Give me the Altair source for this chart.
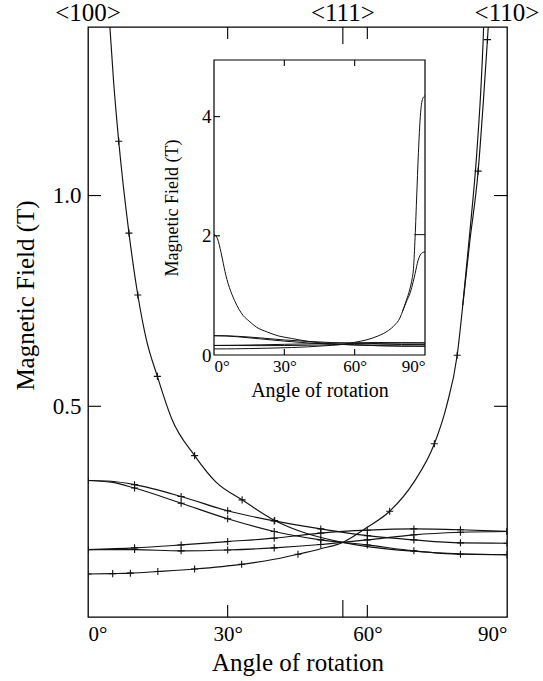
import altair as alt
import pandas as pd

FONT = "Liberation Serif"

# ---------------- data ----------------
# curve A: diverges towards <100>
a_ang = [0, 1.5, 3.0, 4.0, 4.7, 5.5, 6.6, 8.8, 10.7, 12.5, 14.9, 18.0, 22.9, 27.5, 33.1, 40.1, 47.0, 54.7, 60, 70, 80, 90]
a_val = [2.03, 1.95, 1.72, 1.53, 1.40, 1.27, 1.129, 0.911, 0.764, 0.66, 0.571, 0.47, 0.383, 0.32, 0.278, 0.229, 0.198, 0.177, 0.167, 0.156, 0.150, 0.148]
# curves B and C: start together at 0.324 T
bc_ang = [0, 5, 10, 20, 30, 40, 50, 60, 70, 80, 90]
b_val = [0.324, 0.322, 0.314, 0.286, 0.252, 0.228, 0.209, 0.193, 0.183, 0.176, 0.175]
c_val = [0.324, 0.320, 0.306, 0.270, 0.233, 0.203, 0.183, 0.171, 0.157, 0.149, 0.148]
# curves D and E: start together at 0.160 T
de_ang = [0, 10, 20, 30, 40, 50, 60, 70, 80, 90]
d_val = [0.160, 0.164, 0.171, 0.179, 0.187, 0.199, 0.206, 0.209, 0.207, 0.203]
e_val = [0.160, 0.160, 0.157, 0.159, 0.164, 0.172, 0.183, 0.195, 0.201, 0.203]
# curve F: rises towards <110>
f_ang = [0, 5.3, 9.1, 15, 22.9, 33, 40, 45.1, 50, 54.7, 60, 64.8, 70, 74.4, 77, 79.3, 80.5, 82.0, 83.5, 84.6, 85.0, 85.7, 86.4, 87.2, 88.0, 89.0, 90]
f_val = [0.102, 0.103, 0.104, 0.108, 0.114, 0.125, 0.137, 0.149, 0.162, 0.177, 0.213, 0.251, 0.32, 0.411, 0.50, 0.621, 0.74, 0.911, 1.10, 1.30, 1.41, 1.9, 2.6, 3.4, 4.0, 4.3, 4.35]
# curve G: second branch near <110>
g_ang = [80.5, 82.0, 83.8, 84.9, 85.8, 87.0, 88.0, 89.0, 90]
g_val = [0.74, 0.89, 1.058, 1.22, 1.37, 1.58, 1.68, 1.72, 1.73]
# short level in the inset
h_ang = [85.5, 90]
h_val = [2.02, 2.02]

# angles where data crosses are drawn
a_marks = [6.6, 8.8, 10.7, 14.9, 22.9, 33.1, 40.1]
bc_marks = [0, 10, 20, 30, 40, 50, 60, 70, 80, 90]
de_marks = [0, 10, 20, 30, 40, 50, 60, 70, 80, 90]
f_marks = [0, 5.3, 9.1, 15, 22.9, 33, 45.1, 64.8, 74.4, 79.3]
g_marks = [83.8, 85.8]

# axes / labels
main_x_labels = [0, 30, 60, 90]
main_x_ticks = [30, 60]
main_x_long = [54.74]
main_y_labels = [0.5, 1.0]
dir_angles = [0, 54.74, 90]
dir_names = ["<100>", "<111>", "<110>"]
inset_x_labels = [0, 30, 60, 90]
inset_x_ticks = [30, 60]
inset_y_labels = [0, 2, 4]
inset_y_ticks = [2, 4]

# ---------------- tables ----------------
series = {
    "A": (a_ang, a_val), "B": (bc_ang, b_val), "C": (bc_ang, c_val),
    "D": (de_ang, d_val), "E": (de_ang, e_val), "F": (f_ang, f_val), "G": (g_ang, g_val),
}
rows = [{"series": k, "angle": x, "field": y} for k, (xs, ys) in series.items() for x, y in zip(xs, ys)]
lines_df = pd.DataFrame(rows)
inset_df = pd.DataFrame(rows + [{"series": "H", "angle": x, "field": y} for x, y in zip(h_ang, h_val)])

marks = {"A": a_marks, "B": bc_marks, "C": bc_marks, "D": de_marks, "E": de_marks, "F": f_marks, "G": g_marks}
mrows = []
for k, angs in marks.items():
    xs, ys = series[k]
    for x in angs:
        mrows.append({"series": k, "angle": x, "field": ys[xs.index(x)]})
marks_df = pd.DataFrame(mrows)

W, H = 419, 590

# ---------------- main panel ----------------
xs_main = alt.Scale(domain=[0, 90], nice=False, zero=False)
ys_main = alt.Scale(domain=[0, 1.4], nice=False, zero=False)
x_axis_main = alt.Axis(values=main_x_labels, labelExpr="datum.value + '°'", ticks=False, tickSize=0,
                       domain=False, grid=False, labelFontSize=21, labelPadding=6,
                       title="Angle of rotation", titleFontSize=25, titleY=53, titleBaseline="alphabetic")
y_axis_main = alt.Axis(values=main_y_labels, format=".1f", ticks=False, tickSize=0, domain=False,
                       grid=False, labelFontSize=23, labelPadding=7,
                       title="Magnetic Field (T)", titleFontSize=25, titleX=-55, titleY=268,
                       titleBaseline="alphabetic", titleAlign="center")

X = lambda: alt.X("angle:Q", scale=xs_main, axis=x_axis_main)
Y = lambda: alt.Y("field:Q", scale=ys_main, axis=y_axis_main)

main_lines = alt.Chart(lines_df).mark_line(clip=True, color="#111", strokeWidth=1.15, interpolate="monotone").encode(
    x=X(), y=Y(), detail="series:N")
main_marks = alt.Chart(marks_df).mark_point(shape="M-1,0L1,0M0,-1L0,1", size=50, filled=False,
                                            color="#111", strokeWidth=1.1, opacity=1, clip=True).encode(
    x=X(), y=Y(), detail="series:N")

tick_df = pd.DataFrame({"angle": main_x_ticks})
long_df = pd.DataFrame({"angle": main_x_long})
ytick_df = pd.DataFrame({"field": main_y_labels})
dir_df = pd.DataFrame({"angle": dir_angles, "name": dir_names})

rule = dict(color="black", strokeWidth=1.1)
bt = alt.Chart(tick_df).mark_rule(**rule).encode(x=X(), y=alt.value(H), y2=alt.value(H - 12))
tt = alt.Chart(tick_df).mark_rule(**rule).encode(x=X(), y=alt.value(0), y2=alt.value(12))
bl = alt.Chart(long_df).mark_rule(**rule).encode(x=X(), y=alt.value(H), y2=alt.value(H - 17))
tl = alt.Chart(long_df).mark_rule(**rule).encode(x=X(), y=alt.value(0), y2=alt.value(17))
lt = alt.Chart(ytick_df).mark_rule(**rule).encode(y=Y(), x=alt.value(0), x2=alt.value(13))
rt = alt.Chart(ytick_df).mark_rule(**rule).encode(y=Y(), x=alt.value(W - 13), x2=alt.value(W))
dirs = alt.Chart(dir_df).mark_text(font=FONT, fontSize=25, color="black", baseline="middle").encode(
    x=X(), y=alt.value(-14), text="name:N")

main = alt.layer(main_lines, main_marks, bt, tt, bl, tl, lt, rt, dirs)

# ---------------- inset panel ----------------
IX0, IX1, IY0, IY1 = 126, 337, 328, 33
xs_in = alt.Scale(domain=[0, 90], range=[IX0, IX1], nice=False, zero=False)
ys_in = alt.Scale(domain=[0, 4.95], range=[IY0, IY1], nice=False, zero=False)
x_axis_in = alt.Axis(orient="bottom", offset=-(H - IY0), values=inset_x_labels, labelExpr="datum.value + '°'",
                     ticks=False, tickSize=0, domain=False, grid=False, labelFontSize=17, labelPadding=3,
                     title="Angle of rotation", titleFontSize=20, titleY=41, titleBaseline="alphabetic")
y_axis_in = alt.Axis(orient="left", offset=-IX0, values=inset_y_labels, format="d", ticks=False, tickSize=0,
                     domain=False, grid=False, labelFontSize=19, labelPadding=3,
                     title="Magnetic Field (T)", titleFontSize=18, titleX=-37, titleBaseline="alphabetic",
                     titleAlign="center")
XI = lambda: alt.X("angle:Q", scale=xs_in, axis=x_axis_in)
YI = lambda: alt.Y("field:Q", scale=ys_in, axis=y_axis_in)

frame = alt.Chart(pd.DataFrame({"k": [0]})).mark_rect(fill="white", stroke="black", strokeWidth=1.2).encode(
    x=alt.X(datum=0, scale=xs_in, axis=x_axis_in), x2=alt.X2(datum=90),
    y=alt.Y(datum=0, scale=ys_in, axis=y_axis_in), y2=alt.Y2(datum=4.95))
inset_lines = alt.Chart(inset_df).mark_line(color="#111", strokeWidth=1.0, interpolate="monotone").encode(
    x=XI(), y=YI(), detail="series:N")
ixt = pd.DataFrame({"angle": inset_x_ticks})
iyt = pd.DataFrame({"field": inset_y_ticks})
ibt = alt.Chart(ixt).mark_rule(**rule).encode(x=XI(), y=alt.value(IY0), y2=alt.value(IY0 - 6))
itt = alt.Chart(ixt).mark_rule(**rule).encode(x=XI(), y=alt.value(IY1), y2=alt.value(IY1 + 6))
ilt = alt.Chart(iyt).mark_rule(**rule).encode(y=YI(), x=alt.value(IX0), x2=alt.value(IX0 + 6))

inset = alt.layer(frame, inset_lines, ibt, itt, ilt)

chart = alt.layer(main, inset).resolve_scale(x="independent", y="independent").properties(
    width=W, height=H, autosize="none", background="white",
    padding={"left": 88, "top": 27, "right": 36, "bottom": 64},
).configure_view(stroke="black", strokeWidth=1.3).configure_axis(
    labelFont=FONT, titleFont=FONT, labelColor="black", titleColor="black", titleFontWeight="normal"
)

chart.save("out.html", embed_options={"renderer": "svg", "actions": False})
